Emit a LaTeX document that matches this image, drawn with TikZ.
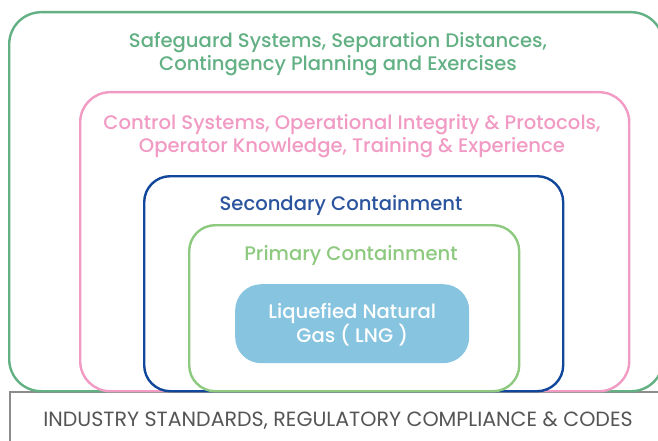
\documentclass[tikz,border=0pt]{standalone}
\usepackage{fontspec}
\setmainfont{Poppins}[BoldFont={Poppins Medium}]
\definecolor{outergreen}{HTML}{62B083}
\definecolor{pinkc}{HTML}{F19AC3}
\definecolor{bluec}{HTML}{11479A}
\definecolor{bluetext}{HTML}{2B549E}
\definecolor{lightgreen}{HTML}{8DC97E}
\definecolor{lngfill}{HTML}{87C4DF}
\definecolor{grayc}{HTML}{8C8C8C}
\definecolor{graytext}{HTML}{555555}
\begin{document}
\begin{tikzpicture}[x=1pt,y=-1pt,
  layer/.style={draw, line width=2.4pt, rounded corners=30pt},
  label/.style={align=center, inner sep=0pt, font=\fontsize{19.6}{23}\selectfont\bfseries},
]
\useasboundingbox (0,0) rectangle (658,441);
\begin{scope}
\clip (0,0) rectangle (658,441);
\draw[grayc, line width=2pt] (10,450) -- (10,392) -- (670,392);
\node[layer, outergreen, rounded corners=32pt, minimum width=654pt, minimum height=379pt, anchor=north west, inner sep=0pt] (outer) at (8,11) {};
\node[layer, pinkc, minimum width=549pt, minimum height=299pt, anchor=north west, inner sep=0pt] (control) at (79,91) {};
\node[layer, bluec, rounded corners=26pt, minimum width=419pt, minimum height=215pt, anchor=north west, inner sep=0pt] (secondary) at (143,175) {};
\node[layer, lightgreen, rounded corners=26pt, minimum width=330pt, minimum height=166pt, anchor=north west, inner sep=0pt] (primary) at (188,224) {};
\node[fill=lngfill, rounded corners=26pt, minimum width=234pt, minimum height=79pt, anchor=north west, inner sep=0pt] (lng) at (235,284) {};
\end{scope}
\node[label, text=outergreen] (t1) at (338,54) {Safeguard Systems, Separation Distances,\\Contingency Planning and Exercises};
\node[label, text=pinkc] (t2) at (352,136) {Control Systems, Operational Integrity \& Protocols,\\Operator Knowledge, Training \& Experience};
\node[label, text=bluetext] (t3) at (341,205) {Secondary Containment};
\node[label, text=lightgreen] (t4) at (351,255) {Primary Containment};
\node[label, text=white] (t5) at ([yshift=-1pt]lng.center) {Liquefied Natural\\Gas ( LNG )};
\node[label, text=graytext, font=\fontsize{20.6}{24}\selectfont] (t6) at (338,421) {INDUSTRY STANDARDS, REGULATORY COMPLIANCE \& CODES};
\end{tikzpicture}
\end{document}
